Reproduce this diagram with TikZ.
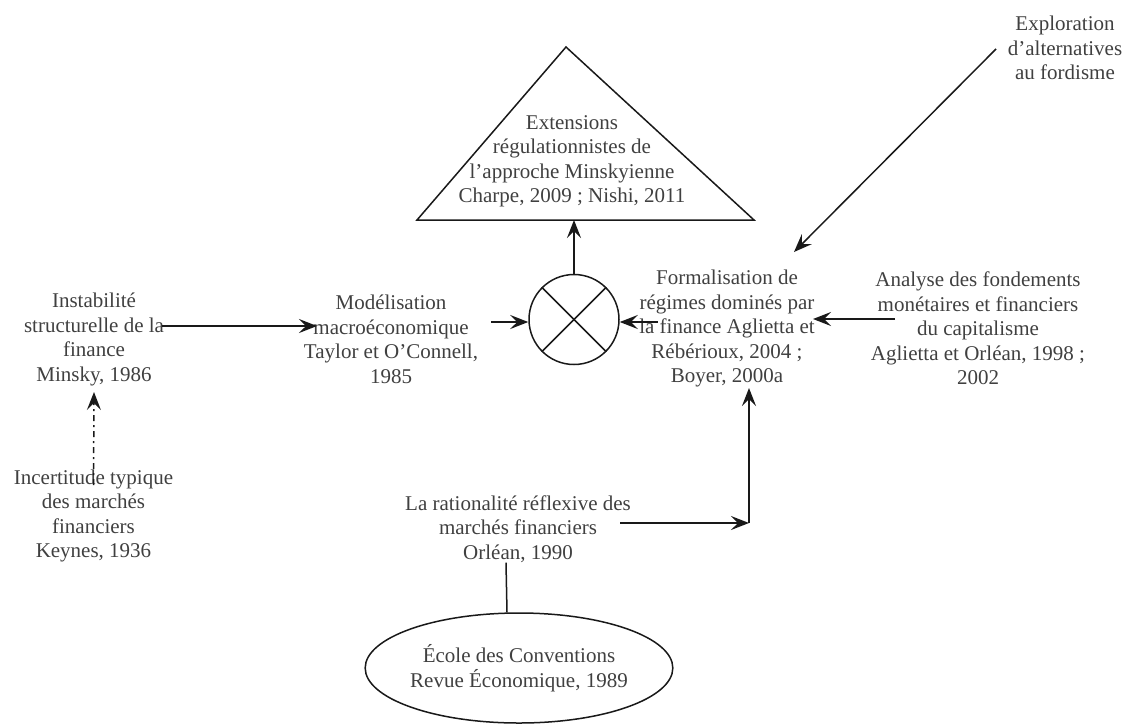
\documentclass[tikz,border=0pt]{standalone}
\usepackage{fontspec}
\setmainfont{Liberation Serif}
\usetikzlibrary{arrows.meta,shapes.geometric}
\begin{document}
\begin{tikzpicture}[x=1pt,y=-1pt,
  txt/.style={align=center,font=\fontsize{21}{24.5}\selectfont,text=black!75,inner sep=0pt},
  ln/.style={line width=1.5pt,draw=black!90},
  arr/.style={ln,-{Stealth[length=18pt,width=14pt,inset=7pt]}},
  dasharr/.style={arr,dash pattern=on 6pt off 4pt on 2pt off 4pt}]
\useasboundingbox (0,0) rectangle (1141,724);
% nodes
\node[txt] (inst) at (94,339.5) {Instabilité\\structurelle de la\\finance\\Minsky, 1986};
\node[txt] (modl) at (391,339.5) {Modélisation\\macroéconomique\\Taylor et O’Connell,\\1985};
\node[txt] (tri) at (572,161.5) {Extensions\\régulationnistes de\\l’approche Minskyienne\\Charpe, 2009 ; Nishi, 2011};
\node[txt] (form) at (727,328.5) {Formalisation de\\régimes dominés par\\la finance Aglietta et\\Rébérioux, 2004 ;\\Boyer, 2000a};
\node[txt] (anal) at (978,328.5) {Analyse des fondements\\monétaires et financiers\\du capitalisme\\Aglietta et Orléan, 1998 ;\\2002};
\node[txt] (expl) at (1065,48) {Exploration\\d’alternatives\\au fordisme};
\node[txt] (inc) at (93.5,516) {Incertitude typique\\des marchés\\financiers\\Keynes, 1936};
\node[txt] (rat) at (518,529) {La rationalité réflexive des\\marchés financiers\\Orléan, 1990};
\node[txt,ellipse,ln,minimum width=294pt,minimum height=110pt] (ecole) at (519,668) {École des Conventions\\Revue Économique, 1989};
% triangle
\coordinate (tapex) at (566,47);
\coordinate (tbr) at (754,220);
\coordinate (tbl) at (417,220);
\coordinate (tbase) at (574,220);
\draw[ln,line join=miter] (tapex) -- (tbr) -- (tbl) -- cycle;
% summing circle
\node[circle,ln,minimum size=90pt,inner sep=0pt] (circ) at (574,319.5) {};
\draw[ln] (circ.45) -- (circ.225);
\draw[ln] (circ.135) -- (circ.-45);
% connectors
\draw[arr] ([xshift=68pt,yshift=13.5pt]inst.center) -- ([xshift=-74pt,yshift=13.5pt]modl.center);
\draw[arr] ([xshift=-37pt,yshift=-2.5pt]circ.west) -- ([yshift=-2.5pt]circ.west);
\draw[arr] ([xshift=38pt,yshift=-2.5pt]circ.east) -- ([yshift=-2.5pt]circ.east);
\draw[arr] (circ.north) -- (tbase);
\draw[arr] ([xshift=-83pt,yshift=9.5pt]anal.center) -- ([xshift=86pt,yshift=9.5pt]form.center);
\draw[arr] ([xshift=-69pt,yshift=-1pt]expl.center) -- ([xshift=67pt,yshift=76.5pt]form.center);
\coordinate (corner) at (749,523);
\draw[arr] ([xshift=102pt,yshift=6pt]rat.center) -- (corner);
\draw[arr] (corner) -- ([xshift=22pt,yshift=-59.5pt]form.center);
\draw[ln] ([xshift=-12pt]rat.south) -- ([xshift=-12pt]ecole.north);
\draw[dasharr] ([yshift=31pt]inc.center) -- ([yshift=-52.5pt]inst.center);
\end{tikzpicture}
\end{document}
